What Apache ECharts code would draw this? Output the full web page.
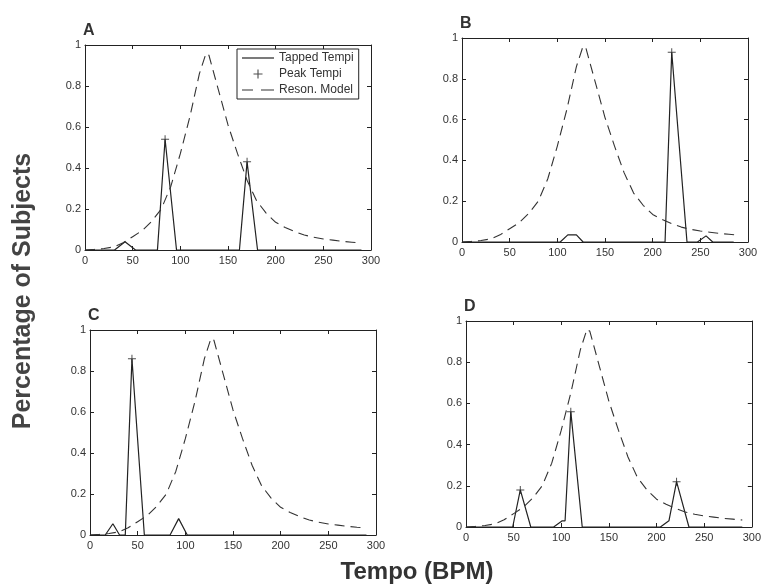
<!DOCTYPE html>
<html>
<head>
<meta charset="utf-8">
<script src="https://cdn.jsdelivr.net/npm/echarts@6/dist/echarts.min.js"></script>
<style>
  html, body { margin: 0; padding: 0; background: #fff; }
  #main { width: 764px; height: 586px; }
</style>
</head>
<body>
<div id="main"></div>
<script>
// tick labels
const xTicks = [0, 50, 100, 150, 200, 250, 300];
const yTicks = [0, 0.2, 0.4, 0.6, 0.8, 1];

// resonance model (same curve in every panel)
const modelTempo = [0, 10, 20, 30, 40, 50, 60, 70, 80, 90, 100, 110, 120, 127, 130, 140, 150, 160, 170, 180, 190, 200, 210, 220, 230, 240, 250, 260, 270, 280, 290];
const modelValue = [0, 0.003, 0.007, 0.015, 0.035, 0.065, 0.095, 0.14, 0.2, 0.31, 0.47, 0.65, 0.86, 0.96, 0.95, 0.78, 0.61, 0.47, 0.34, 0.24, 0.18, 0.135, 0.11, 0.09, 0.073, 0.062, 0.054, 0.048, 0.042, 0.038, 0.034];

// tapped tempi per panel [tempo, share]
const tappedA = [[0, 0], [31, 0], [42, 0.04], [53, 0], [76, 0], [84, 0.54], [96, 0], [162, 0], [170, 0.43], [181, 0], [290, 0]];
const tappedB = [[0, 0], [103, 0], [111, 0.035], [120, 0.035], [127, 0], [213, 0], [220, 0.93], [236, 0], [247, 0], [256, 0.03], [263, 0], [285, 0]];
const tappedC = [[0, 0], [16, 0], [24, 0.055], [31, 0], [37, 0], [44, 0.86], [57, 0], [84, 0], [93, 0.08], [102, 0], [290, 0]];
const tappedD = [[0, 0], [49, 0], [57, 0.18], [68, 0], [92, 0], [101, 0.03], [104, 0.03], [110, 0.56], [122, 0], [204, 0], [213, 0.03], [221, 0.22], [234, 0], [290, 0]];

// peak tempi markers
const peaksA = [[84, 0.54], [170, 0.43]];
const peaksB = [[220, 0.93]];
const peaksC = [[44, 0.86]];
const peaksD = [[57, 0.18], [110, 0.56], [221, 0.22]];

const panelNames = ['A', 'B', 'C', 'D'];
const tapped = [tappedA, tappedB, tappedC, tappedD];
const peaks = [peaksA, peaksB, peaksC, peaksD];

// plot boxes
const boxes = [
  { left: 85, top: 45, width: 286, height: 205 },
  { left: 462, top: 38, width: 286, height: 204 },
  { left: 90, top: 330, width: 286, height: 205 },
  { left: 466, top: 321, width: 289, height: 206 }
];

const font = 'Liberation Sans, Arial, sans-serif';
const ink = '#222';
const plus = 'path://M7,0h2v7h7v2h-7v7h-2v-7h-7v-2h7z';

let chart = echarts.init(document.getElementById('main'), null, { renderer: 'canvas' });

let grid = [], xAxis = [], yAxis = [], series = [], graphic = [];
let modelData = modelTempo.map((t, i) => [t, modelValue[i]]);

function axisBase(extra) {
  return Object.assign({
    type: 'value',
    axisLine: { show: true, onZero: false, lineStyle: { color: ink, width: 1 } },
    axisTick: { show: true, inside: true, length: 4, lineStyle: { color: ink } },
    splitLine: { show: false }
  }, extra);
}

for (let i = 0; i < 4; i++) {
  grid.push(Object.assign({ containLabel: false }, boxes[i]));
  // bottom / left axes with labels
  xAxis.push(axisBase({
    gridIndex: i, min: 0, max: 300, interval: 50, position: 'bottom',
    axisLabel: { color: '#333', fontSize: 11, fontFamily: font, margin: 5 }
  }));
  yAxis.push(axisBase({
    gridIndex: i, min: 0, max: 1, interval: 0.2, position: 'left',
    axisLabel: { color: '#333', fontSize: 11, fontFamily: font, margin: 4 }
  }));
  // mirror axes to close the box
  xAxis.push(axisBase({
    gridIndex: i, min: 0, max: 300, interval: 50, position: 'top',
    axisLabel: { show: false }
  }));
  yAxis.push(axisBase({
    gridIndex: i, min: 0, max: 1, interval: 0.2, position: 'right',
    axisLabel: { show: false }
  }));

  series.push({
    name: 'Tapped Tempi', type: 'line', xAxisIndex: i * 2, yAxisIndex: i * 2,
    data: tapped[i], symbol: 'none', silent: true,
    lineStyle: { color: ink, width: 1.2 }, itemStyle: { color: ink }
  });
  series.push({
    name: 'Peak Tempi', type: 'scatter', xAxisIndex: i * 2, yAxisIndex: i * 2,
    data: peaks[i], symbol: plus, symbolSize: 8, silent: true,
    itemStyle: { color: ink }
  });
  series.push({
    name: 'Reson. Model', type: 'line', xAxisIndex: i * 2, yAxisIndex: i * 2,
    data: modelData, symbol: 'none', silent: true,
    lineStyle: { color: '#333', width: 1.1, type: [10, 6] }, itemStyle: { color: '#333' }
  });

  // panel letter
  graphic.push({
    type: 'text', left: boxes[i].left - 2, top: boxes[i].top - 22,
    style: { text: panelNames[i], font: 'bold 16px ' + font, fill: '#333' }
  });
}

// shared axis titles
graphic.push({
  type: 'text', x: 23, y: 291, rotation: Math.PI / 2, originX: 0, originY: 0,
  style: { text: 'Percentage of Subjects', font: 'bold 25px ' + font, fill: '#444', align: 'center', verticalAlign: 'middle' }
});
graphic.push({
  type: 'text', x: 417, y: 572,
  style: { text: 'Tempo (BPM)', font: 'bold 24px ' + font, fill: '#333', align: 'center', verticalAlign: 'middle' }
});

let option = {
  backgroundColor: '#fff',
  animation: false,
  grid: grid,
  xAxis: xAxis,
  yAxis: yAxis,
  legend: {
    orient: 'vertical', left: 237, top: 49,
    data: [
      { name: 'Tapped Tempi', icon: 'path://M0,0h32v1.2h-32z' },
      { name: 'Peak Tempi', icon: plus },
      { name: 'Reson. Model', icon: 'path://M0,0h11v1.2h-11z M19,0h13v1.2h-13z' }
    ],
    itemWidth: 32, itemHeight: 9, itemGap: 4,
    padding: [3, 5, 3, 5],
    borderColor: ink, borderWidth: 1, backgroundColor: '#fff',
    selectedMode: false,
    textStyle: { color: '#333', fontSize: 12, fontFamily: font }
  },
  graphic: graphic,
  series: series
};

chart.setOption(option);
</script>
</body>
</html>
